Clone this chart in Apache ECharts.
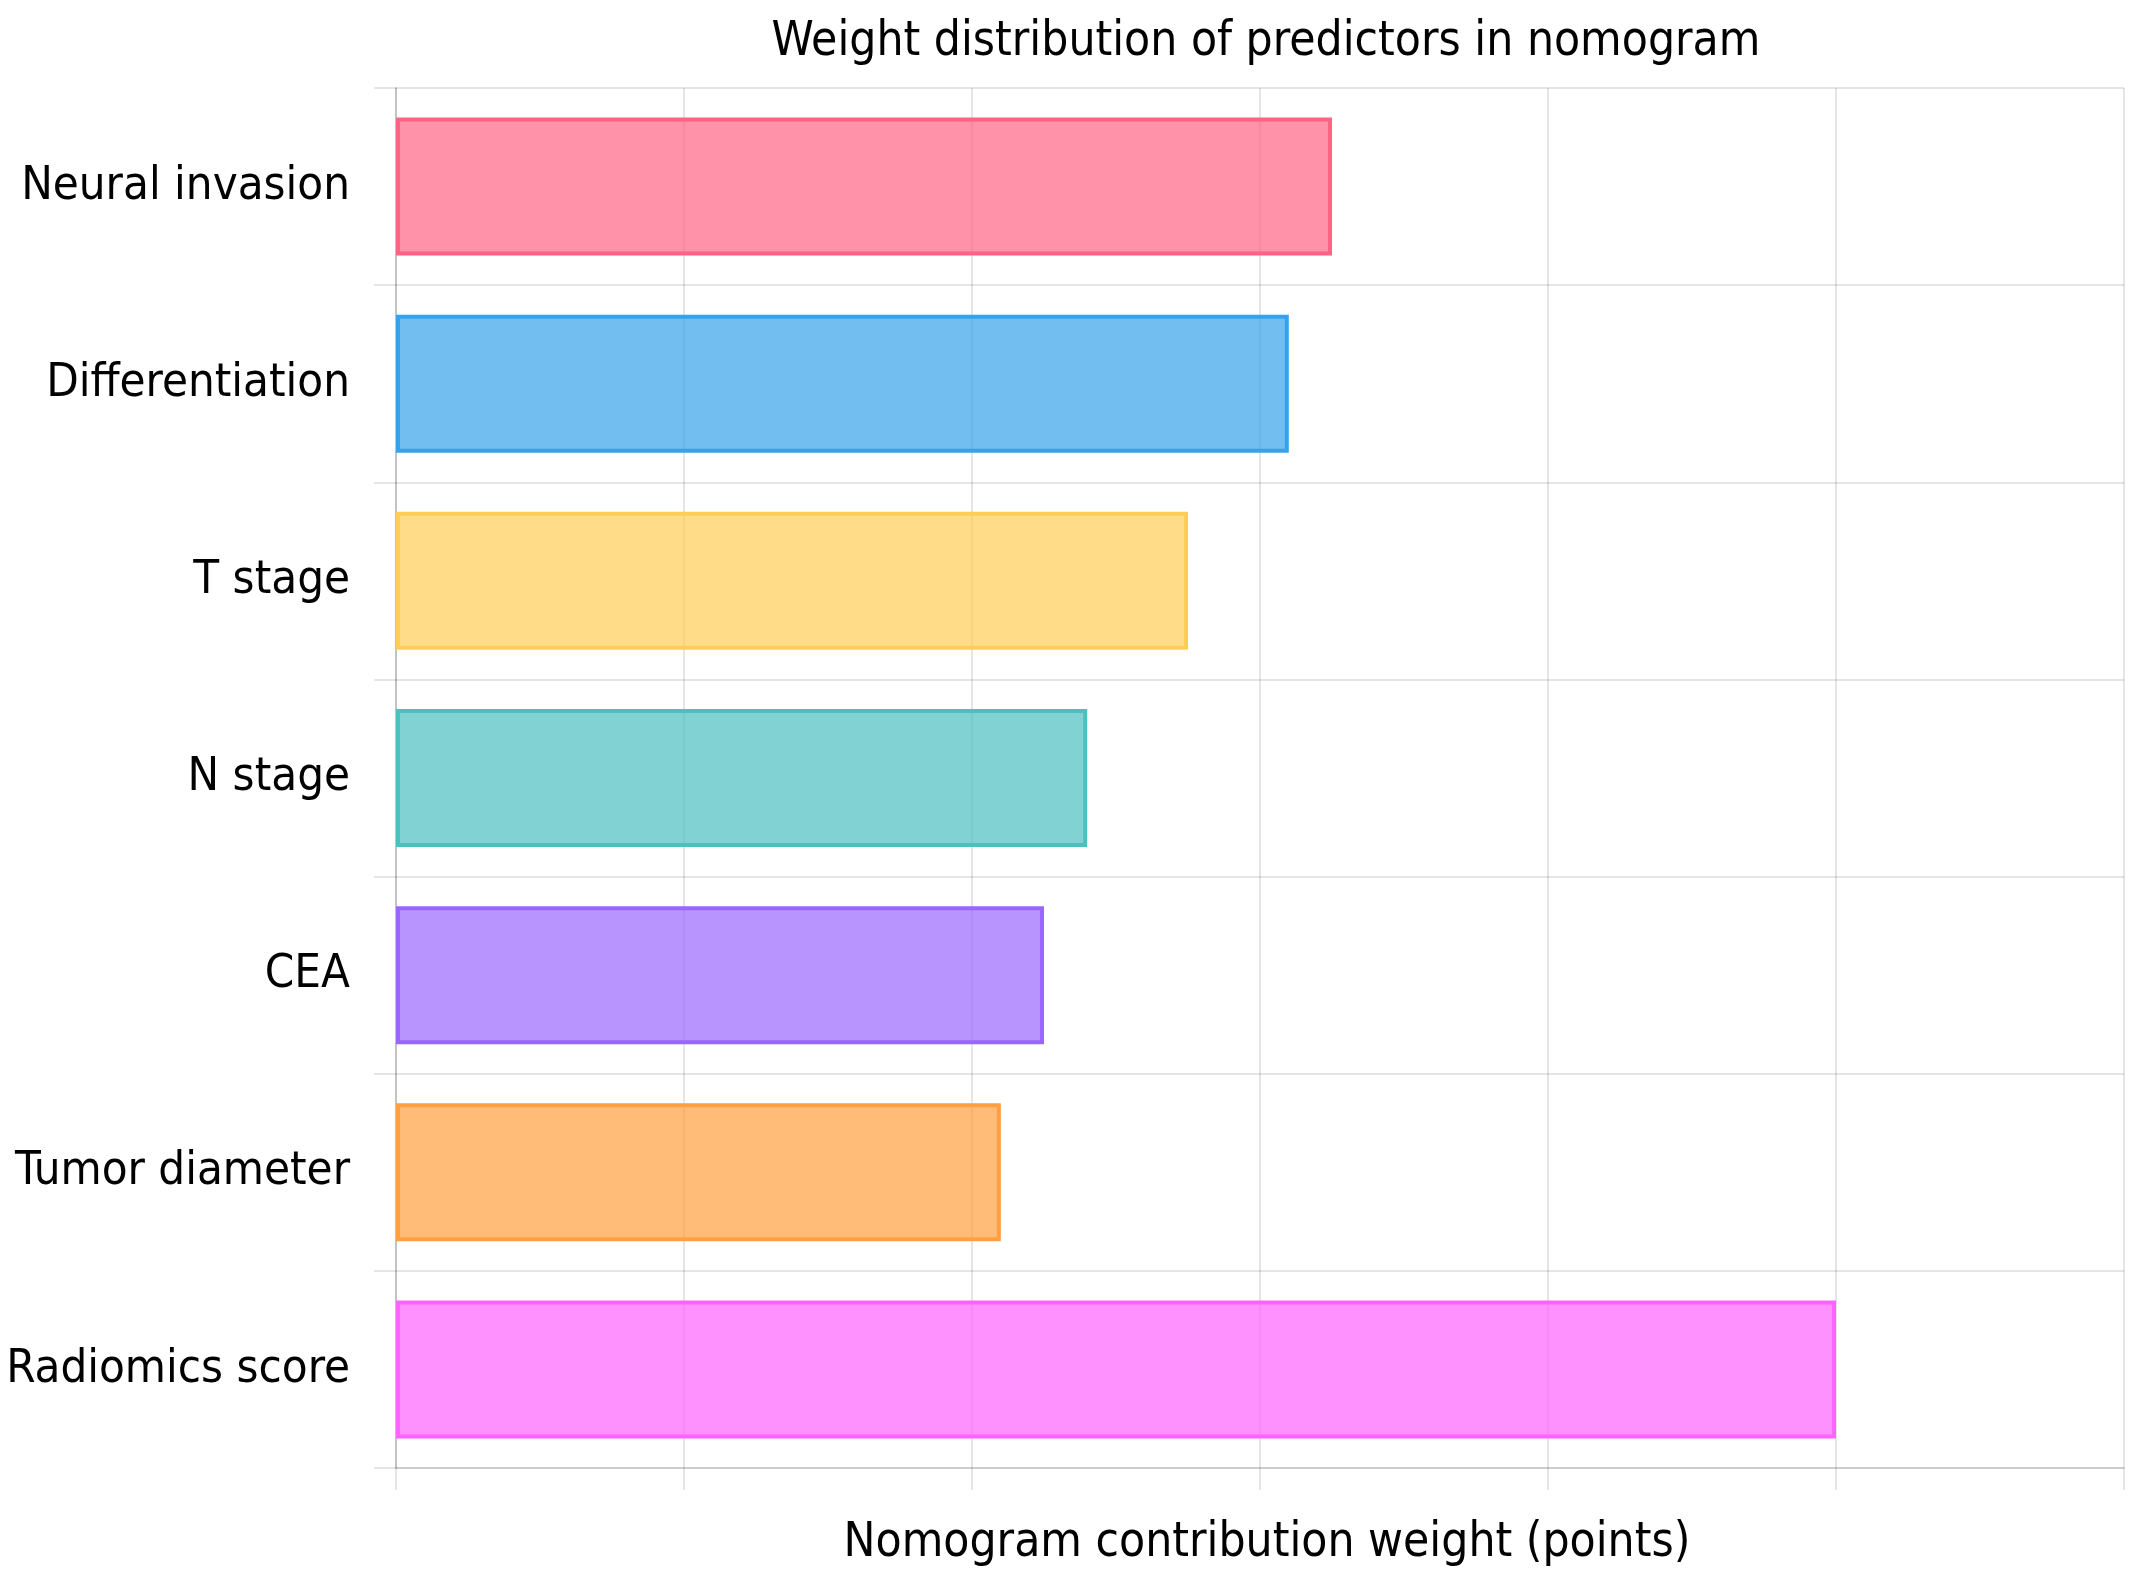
<!DOCTYPE html>
<html>
<head>
<meta charset="utf-8">
<script src="https://cdn.jsdelivr.net/npm/echarts@6/dist/echarts.min.js"></script>
<style>
html,body{margin:0;padding:0;background:#fff;}
#chart{width:2136px;height:1583px;}
</style>
</head>
<body>
<div id="chart"></div>
<script>
const categories = ['Neural invasion', 'Differentiation', 'T stage', 'N stage', 'CEA', 'Tumor diameter', 'Radiomics score'];
const weights = [65, 62, 55, 48, 45, 42, 100];
const borderColors = ['rgb(255,99,132)', 'rgb(54,162,235)', 'rgb(255,205,86)', 'rgb(75,192,192)', 'rgb(153,102,255)', 'rgb(255,159,64)', 'rgb(255,99,255)'];
const fillColors = ['rgba(255,99,132,0.7)', 'rgba(54,162,235,0.7)', 'rgba(255,205,86,0.7)', 'rgba(75,192,192,0.7)', 'rgba(153,102,255,0.7)', 'rgba(255,159,64,0.7)', 'rgba(255,99,255,0.7)'];
const titleText = 'Weight distribution of predictors in nomogram';
const xAxisName = 'Nomogram contribution weight (points)';

const FONT = "'DejaVu Sans Condensed', 'DejaVu Sans', sans-serif";
const gridColor = 'rgba(0,0,0,0.1)';

const chart = echarts.init(document.getElementById('chart'), null, {renderer: 'canvas'});
chart.setOption({
  backgroundColor: '#fff',
  animation: false,
  title: {
    text: titleText,
    left: 1266,
    top: 19,
    padding: 0,
    textAlign: 'center',
    textStyle: {fontFamily: FONT, fontSize: 47.5, fontWeight: 'normal', color: '#000'}
  },
  grid: {left: 396, right: 12, top: 88, bottom: 115, containLabel: false},
  xAxis: {
    type: 'value',
    min: 0, max: 120, interval: 20,
    name: xAxisName,
    nameLocation: 'middle',
    nameGap: 52,
    nameTextStyle: {fontFamily: FONT, fontSize: 47.5, color: '#000', padding: [0, 0, 0, 14]},
    axisLine: {show: true, lineStyle: {color: gridColor, width: 2}},
    axisTick: {show: true, length: 22, lineStyle: {color: gridColor, width: 2}},
    axisLabel: {show: false},
    splitLine: {show: true, lineStyle: {color: gridColor, width: 2}}
  },
  yAxis: {
    type: 'category',
    data: categories,
    inverse: true,
    axisLine: {show: true, lineStyle: {color: 'rgba(0,0,0,0.15)', width: 2}},
    axisTick: {show: true, length: 22, alignWithLabel: false, lineStyle: {color: gridColor, width: 2}},
    axisLabel: {fontFamily: FONT, fontSize: 47, color: '#000', margin: 46, padding: [12, 0, 0, 0]},
    splitLine: {show: true, lineStyle: {color: gridColor, width: 2}}
  },
  series: [{
    type: 'bar',
    barWidth: '70%',
    data: weights.map((v, i) => ({
      value: v,
      itemStyle: {color: fillColors[i], borderColor: borderColors[i], borderWidth: 4}
    }))
  }]
});
</script>
</body>
</html>
